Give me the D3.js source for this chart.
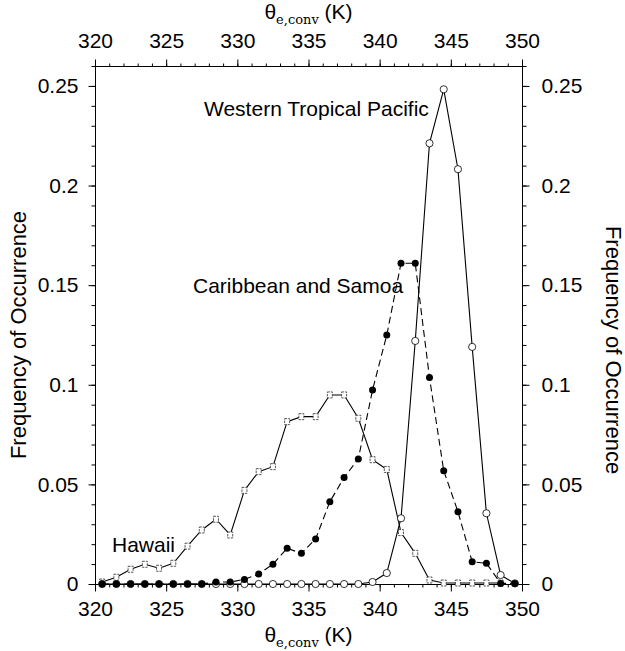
<!DOCTYPE html>
<html>
<head>
<meta charset="utf-8">
<script src="https://cdn.jsdelivr.net/npm/d3@7"></script>
<style>
  html, body { margin: 0; padding: 0; background: #fff; }
  svg { display: block; }
  text { font-family: "Liberation Sans", Arial, Helvetica, sans-serif; fill: #000; }
</style>
</head>
<body>
<svg id="chart" width="625" height="651"></svg>
<script>
// ---- data (bin centres in K, frequency of occurrence) ----
const binCenters = [320.5,321.5,322.5,323.5,324.5,325.5,326.5,327.5,328.5,329.5,
                    330.5,331.5,332.5,333.5,334.5,335.5,336.5,337.5,338.5,339.5,
                    340.5,341.5,342.5,343.5,344.5,345.5,346.5,347.5,348.5,349.5];
const hawaii = [0.001,0.0034,0.0074,0.0099,0.0079,0.0104,0.019,0.0271,0.0325,0.0246,
                0.047,0.0564,0.0589,0.0815,0.084,0.084,0.0949,0.0949,0.0832,0.0624,
                0.0575,0.0258,0.0154,0.002,0.0005,0.0005,0.0005,0.0005,0.0005,null];
const caribbeanSamoa = [0,0,0,0,0,0,0,0,0.001,0.001,
                        0.0023,0.005,0.0099,0.0179,0.0154,0.0226,0.0413,0.0534,0.0628,0.0974,
                        0.125,0.161,0.161,0.1036,0.0569,0.0363,0.0112,0.0104,0.0003,0.0003];
const westernPacific = [0,0,0,0,0,0,0,0,0,0,
                        0,0,0,0,0,0,0,0,0,0.001,
                        0.0055,0.033,0.122,0.2212,0.2483,0.2082,0.119,0.0355,0.0045,0.0003];
const xTicks = [320,325,330,335,340,345,350];
const yTicks = [0,0.05,0.1,0.15,0.2,0.25];
const yTickLabels = ["0","0.05","0.1","0.15","0.2","0.25"];
const seriesLabels = ["Hawaii","Caribbean and Samoa","Western Tropical Pacific"];

// ---- layout ----
const L = 95, R = 522, T = 66, B = 584;
const svg = d3.select("#chart");
const x = d3.scaleLinear().domain([320,350]).range([L,R]);
const y = d3.scaleLinear().domain([0,0.26]).range([B,T]);

const fs = 21;
const minorX = d3.range(320,351,1);
const minorY = d3.range(0,0.2601,0.01);

// frame lines
const frame = svg.append("g").attr("stroke","#000").attr("stroke-width",1).attr("fill","none");
frame.append("line").attr("x1",L).attr("x2",R).attr("y1",T+0.5).attr("y2",T+0.5);
frame.append("line").attr("x1",L).attr("x2",R).attr("y1",B+0.5).attr("y2",B+0.5);
frame.append("line").attr("x1",L+0.5).attr("x2",L+0.5).attr("y1",T).attr("y2",B+1);
frame.append("line").attr("x1",R+0.5).attr("x2",R+0.5).attr("y1",T).attr("y2",B+1);

function styleAxis(g){
  g.select(".domain").remove();
  g.selectAll("line").attr("stroke","#000");
  g.selectAll("text").style("font-size", fs+"px").style("font-family","'Liberation Sans', Arial, sans-serif");
}
// minor ticks
svg.append("g").attr("transform",`translate(0,${B+0.5})`)
  .call(d3.axisBottom(x).tickValues(minorX).tickSize(3).tickFormat("")).call(styleAxis);
svg.append("g").attr("transform",`translate(0,${T+0.5})`)
  .call(d3.axisTop(x).tickValues(minorX).tickSize(3).tickFormat("")).call(styleAxis);
svg.append("g").attr("transform",`translate(${L+0.5},0)`)
  .call(d3.axisLeft(y).tickValues(minorY).tickSize(4).tickFormat("")).call(styleAxis);
svg.append("g").attr("transform",`translate(${R+0.5},0)`)
  .call(d3.axisRight(y).tickValues(minorY).tickSize(4).tickFormat("")).call(styleAxis);
// major ticks
svg.append("g").attr("transform",`translate(0,${B+0.5})`)
  .call(d3.axisBottom(x).tickValues(xTicks).tickSize(7).tickPadding(10).tickFormat(d3.format("d"))).call(styleAxis);
svg.append("g").attr("transform",`translate(0,${T+0.5})`)
  .call(d3.axisTop(x).tickValues(xTicks).tickSize(7).tickPadding(12).tickFormat(d3.format("d"))).call(styleAxis);
svg.append("g").attr("transform",`translate(${L+0.5},0)`)
  .call(d3.axisLeft(y).tickValues(yTicks).tickSize(7).tickPadding(10).tickFormat((d,i)=>yTickLabels[i])).call(styleAxis);
svg.append("g").attr("transform",`translate(${R+0.5},0)`)
  .call(d3.axisRight(y).tickValues(yTicks).tickSize(7).tickPadding(12).tickFormat((d,i)=>yTickLabels[i])).call(styleAxis);

// axis titles
function thetaTitle(yPos){
  const t = svg.append("text").attr("x",(L+R)/2).attr("y",yPos).attr("text-anchor","middle").style("font-size",fs+"px");
  t.append("tspan").text("θ");
  t.append("tspan").attr("dy",5).style("font-family","'DejaVu Serif', 'Liberation Serif', serif").style("font-size","13px").text("e,conv");
  t.append("tspan").attr("dy",-5).text(" (K)");
}
thetaTitle(19);
thetaTitle(642);
svg.append("text").attr("transform",`translate(26,335) rotate(-90)`).attr("text-anchor","middle").style("font-size","22px").text("Frequency of Occurrence");
svg.append("text").attr("transform",`translate(606,350) rotate(90)`).attr("text-anchor","middle").style("font-size","22px").text("Frequency of Occurrence");

// series
const plot = svg.append("g");
function pts(vals){ return binCenters.map((c,i)=>({x:c,v:vals[i]})).filter(d=>d.v!==null); }
const line = d3.line().x(d=>x(d.x)).y(d=>y(d.v));

// Hawaii (solid, open squares)
const hw = pts(hawaii);
plot.append("path").datum(hw).attr("d",line).attr("fill","none").attr("stroke","#000").attr("stroke-width",1.1);
plot.selectAll("rect.hw").data(hw).enter().append("rect").attr("class","hw")
  .attr("x",d=>x(d.x)-2.5).attr("y",d=>y(d.v)-3).attr("width",5).attr("height",6)
  .attr("fill","#fff").attr("stroke","#444").attr("stroke-width",0.9).attr("stroke-dasharray","2.5,1");

// Western Tropical Pacific (solid, open circles)
const wp = pts(westernPacific);
plot.append("path").datum(wp).attr("d",line).attr("fill","none").attr("stroke","#000").attr("stroke-width",1.1);
plot.selectAll("circle.wp").data(wp).enter().append("circle").attr("class","wp")
  .attr("cx",d=>x(d.x)).attr("cy",d=>y(d.v)).attr("r",3.6)
  .attr("fill","#fff").attr("stroke","#000").attr("stroke-width",0.8);

// Caribbean and Samoa (dashed, filled circles)
const cs = pts(caribbeanSamoa);
plot.append("path").datum(cs).attr("d",line).attr("fill","none").attr("stroke","#000").attr("stroke-width",1.1).attr("stroke-dasharray","7,4");
plot.selectAll("circle.cs").data(cs).enter().append("circle").attr("class","cs")
  .attr("cx",d=>x(d.x)).attr("cy",d=>y(d.v)).attr("r",3.5).attr("fill","#000");

// annotations
svg.append("text").attr("x",204).attr("y",116).style("font-size",fs+"px").text(seriesLabels[2]);
svg.append("text").attr("x",193).attr("y",293).style("font-size",fs+"px").text(seriesLabels[1]);
svg.append("text").attr("x",112).attr("y",552).style("font-size",fs+"px").text(seriesLabels[0]);
</script>
</body>
</html>
